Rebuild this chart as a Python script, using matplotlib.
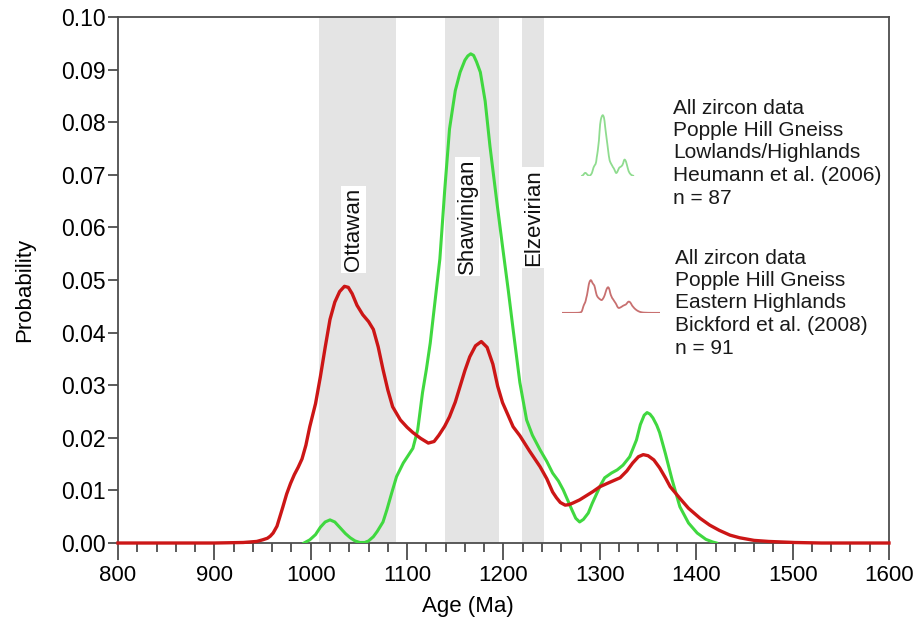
import matplotlib
matplotlib.use("Agg")
import matplotlib.pyplot as plt
from matplotlib.ticker import MultipleLocator, FormatStrFormatter

plt.rcParams["font.family"] = ["Liberation Sans", "DejaVu Sans"]

# Bickford et al. (2008), Eastern Highlands - red curve
red_age = [800, 850, 900, 930, 944, 950, 955, 958, 961, 965, 968, 971, 975, 979,
           983, 987, 991, 995, 999, 1005, 1010, 1015, 1020, 1025, 1030, 1035, 1039,
           1043, 1048, 1054, 1060, 1065, 1070, 1075, 1080, 1085, 1093, 1100, 1106,
           1114, 1122, 1128, 1133, 1139, 1144, 1150, 1155, 1160, 1165, 1171, 1177,
           1183, 1189, 1194, 1199, 1205, 1210, 1217, 1227, 1238, 1245, 1251, 1255,
           1259, 1264, 1268, 1272, 1279, 1286, 1293, 1300, 1311, 1321, 1328, 1334,
           1340, 1345, 1350, 1356, 1362, 1368, 1373, 1378, 1383, 1392, 1404, 1414,
           1424, 1435, 1445, 1460, 1475, 1502, 1530, 1560, 1600]
red_prob = [0.0, 0.0, 0.0, 0.0001, 0.0003, 0.0006, 0.0009, 0.0013, 0.0019, 0.0032,
            0.0050, 0.0068, 0.0093, 0.0113, 0.0130, 0.0144, 0.0160, 0.0186, 0.0221,
            0.0265, 0.0316, 0.0372, 0.0425, 0.0458, 0.0478, 0.0488, 0.0486, 0.0474,
            0.0452, 0.0434, 0.0421, 0.0406, 0.0373, 0.0330, 0.0291, 0.0259, 0.0234,
            0.0220, 0.0210, 0.0199, 0.0190, 0.0193, 0.0205, 0.0222, 0.0240, 0.0268,
            0.0298, 0.0328, 0.0354, 0.0375, 0.0383, 0.0372, 0.0340, 0.0298, 0.0267,
            0.0242, 0.0221, 0.0204, 0.0175, 0.0145, 0.0122, 0.0097, 0.0086, 0.0077,
            0.0072, 0.0073, 0.0076, 0.0082, 0.0090, 0.0098, 0.0107, 0.0116, 0.0124,
            0.0137, 0.0152, 0.0164, 0.0168, 0.0166, 0.0158, 0.0143, 0.0124, 0.0107,
            0.0096, 0.0085, 0.0066, 0.0047, 0.0034, 0.0024, 0.0015, 0.0010, 0.0005,
            0.0003, 0.0001, 0.0, 0.0, 0.0]

# Heumann et al. (2006), Lowlands/Highlands - green curve
green_age = [993, 999, 1005, 1010, 1015, 1020, 1025, 1030, 1036, 1041, 1046, 1051,
             1056, 1060, 1065, 1069, 1075, 1079, 1084, 1089, 1096, 1101, 1106, 1111,
             1116, 1120, 1124, 1129, 1134, 1139, 1144, 1150, 1155, 1160, 1163, 1166,
             1169, 1172, 1176, 1181, 1186, 1193, 1199, 1205, 1210, 1217, 1224, 1230,
             1238, 1245, 1251, 1257, 1262, 1267, 1271, 1275, 1279, 1283, 1288, 1292,
             1297, 1301, 1305, 1312, 1318, 1324, 1331, 1338, 1342, 1346, 1349, 1352,
             1355, 1359, 1362, 1368, 1375, 1383, 1392, 1401, 1410, 1417, 1421]
green_prob = [0.0, 0.0006, 0.0016, 0.0030, 0.0040, 0.0044, 0.0040, 0.0030, 0.0018,
              0.0010, 0.0004, 0.0001, 0.0001, 0.0004, 0.0012, 0.0022, 0.0040, 0.0063,
              0.0095, 0.0126, 0.0152, 0.0166, 0.0180, 0.0215, 0.0286, 0.0330, 0.0380,
              0.0460, 0.0540, 0.0670, 0.0787, 0.0860, 0.0895, 0.0918, 0.0926, 0.0930,
              0.0927, 0.0915, 0.0895, 0.0840, 0.0754, 0.0650, 0.0564, 0.0480, 0.0406,
              0.0305, 0.0234, 0.0205, 0.0177, 0.0155, 0.0133, 0.0118, 0.0101, 0.0080,
              0.0063, 0.0047, 0.0040, 0.0045, 0.0057, 0.0075, 0.0095, 0.0111, 0.0124,
              0.0133, 0.0139, 0.0148, 0.0164, 0.0196, 0.0225, 0.0243, 0.0248, 0.0245,
              0.0238, 0.0224, 0.0210, 0.0170, 0.0120, 0.0069, 0.0038, 0.0019, 0.0007,
              0.0002, 0.0]

# orogenic phases (Ma)
band_names = ["Ottawan", "Shawinigan", "Elzevirian"]
band_start = [1009, 1139, 1219]
band_end = [1089, 1195, 1242]
label_age = [1044, 1163, 1231]
label_prob = [0.0596, 0.0621, 0.0619]

legend_green = ["All zircon data", "Popple Hill Gneiss", "Lowlands/Highlands",
                "Heumann et al. (2006)", "n = 87"]
legend_red = ["All zircon data", "Popple Hill Gneiss", "Eastern Highlands",
              "Bickford et al. (2008)", "n = 91"]

RED = "#cc1616"
GREEN = "#40d840"
AXCOL = "#4d4d4d"

fig = plt.figure(figsize=(9.18, 6.32), dpi=100)
ax = fig.add_axes([0.1285, 0.1408, 0.8399, 0.8323])

for s, e in zip(band_start, band_end):
    ax.axvspan(s, e, color="#e4e4e4", lw=0, zorder=0)

for name, x, y in zip(band_names, label_age, label_prob):
    ax.text(x, y, name, rotation=90, ha="center", va="center", fontsize=16,
            color="#111111", zorder=2,
            bbox=dict(facecolor="white", edgecolor="none", pad=1.5))

ax.plot(green_age, green_prob, color=GREEN, lw=2.2, zorder=3)
ax.plot(red_age, red_prob, color=RED, lw=2.4, zorder=4, clip_on=False)

ax.set_xlim(800, 1600)
ax.set_ylim(0, 0.10)
ax.xaxis.set_major_locator(MultipleLocator(100))
ax.xaxis.set_minor_locator(MultipleLocator(20))
ax.yaxis.set_major_locator(MultipleLocator(0.01))
ax.yaxis.set_major_formatter(FormatStrFormatter("%.2f"))
ax.tick_params(axis="x", which="major", length=12, width=1.3, color=AXCOL,
               labelsize=16, pad=4)
ax.tick_params(axis="x", which="minor", length=6.5, width=1.3, color=AXCOL)
ax.tick_params(axis="y", which="major", length=7.5, width=1.3, color=AXCOL,
               labelsize=16.5, pad=1.5)
for sp in ax.spines.values():
    sp.set_color(AXCOL)
    sp.set_linewidth(1.3)

ax.set_xlabel("Age (Ma)", fontsize=16)
ax.set_ylabel("Probability", fontsize=16)
ax.xaxis.set_label_coords(0.454, -0.1008)
ax.yaxis.set_label_coords(-0.1077, 0.481)

# small legend curves
ax_g = fig.add_axes([0.609, 0.722, 0.104, 0.103])
ax_g.plot(green_age, green_prob, color="#8fdc8f", lw=1.3)
ax_r = fig.add_axes([0.612, 0.505, 0.107, 0.106])
ax_r.plot(red_age, red_prob, color="#c87070", lw=1.3)
for a in (ax_g, ax_r):
    a.set_xlim(800, 1600)
    a.set_ylim(0, 0.10)
    a.axis("off")

for i, line in enumerate(legend_green):
    fig.text(673 / 918, 1 - (108 + i * 22.5) / 632, line, fontsize=15,
             va="center", ha="left", color="#1a1a1a")
for i, line in enumerate(legend_red):
    fig.text(675 / 918, 1 - (258 + i * 22.5) / 632, line, fontsize=15,
             va="center", ha="left", color="#1a1a1a")

fig.savefig("out.png", dpi=100)
